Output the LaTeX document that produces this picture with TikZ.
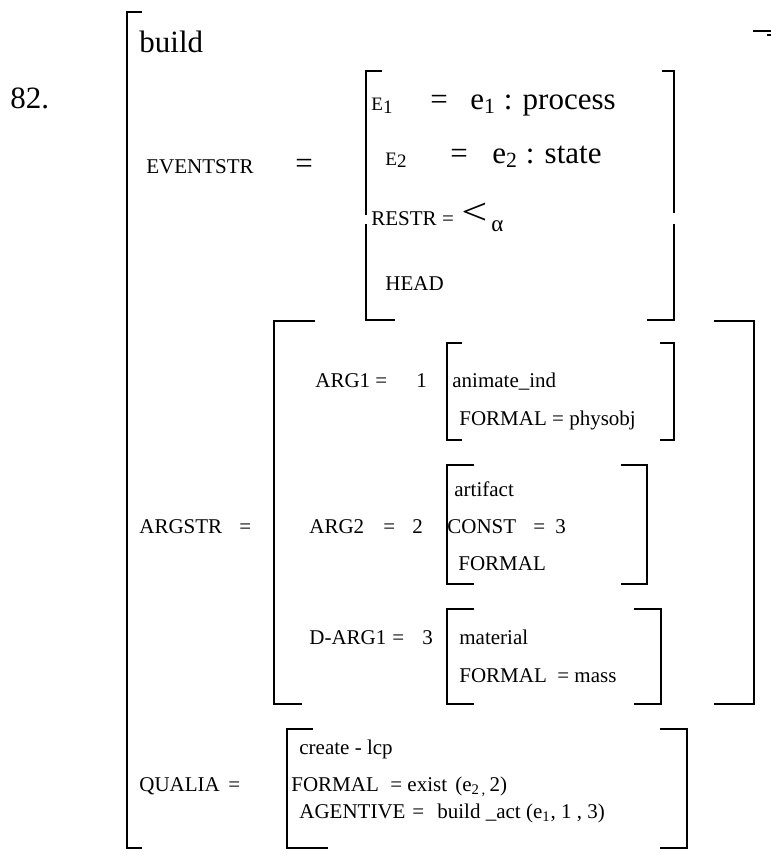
\documentclass[tikz,border=0pt]{standalone}
\usepackage{fontspec}
\setmainfont{Liberation Serif}
\usepackage{graphicx}

\begin{document}
\begin{tikzpicture}[
    x=0.5pt, y=-0.5pt,
    txt/.style={anchor=base west, inner sep=0pt, font=\fontsize{10.5}{12}\selectfont},
    big/.style={anchor=base west, inner sep=0pt, font=\fontsize{15.5}{18}\selectfont},
    small/.style={anchor=base west, inner sep=0pt, font=\fontsize{9.5}{11}\selectfont},
    brk/.style={line width=1pt}
]
\useasboundingbox (0,0) rectangle (771,863);

% Define nodes
\node[big] (num) at (10,108) {82.};
\node[big] (build) at (139,52) {build};

% event structure
\node[txt] (evs) at (146,173) {EVENTSTR};
\node[big] (evseq) at (295,173) {=};
\node[small] (e1) at (371,110) {E\raisebox{-1.5pt}{1}};
\node[big] (e1eq) at (430,109) {=};
\node[big] (e1val) at (470,109) {e\textsubscript{1} : process};
\node[small] (e2) at (385,165) {E\raisebox{-1pt}{2}};
\node[big] (e2eq) at (450,163) {=};
\node[big] (e2val) at (492,163) {e\textsubscript{2} : state};
\node[txt] (restr) at (371,225) {RESTR =};
\node[anchor=base west, inner sep=0pt, font=\fontsize{22}{24}\selectfont] (lt) at (461,224) {\scalebox{1.05}[0.85]{<}};
\node[anchor=base west, inner sep=0pt, font=\fontsize{11.5}{14}\selectfont] (alpha) at (491,231) {α};
\node[txt] (head) at (385,290) {HEAD};

% argument structure
\node[txt] (args) at (139,533) {ARGSTR};
\node[txt] (argseq) at (239,533) {=};
\node[txt] (a1) at (315,387) {ARG1};
\node[txt] (a1eq) at (375,387) {=};
\node[txt] (a1n) at (416,387) {1};
\node[txt] (anim) at (452,387) {animate\_ind};
\node[txt] (a1f) at (459,425) {FORMAL = physobj};
\node[txt] (artf) at (454,496) {artifact};
\node[txt] (a2) at (309,533) {ARG2};
\node[txt] (a2eq) at (383,533) {=};
\node[txt] (a2n) at (412,533) {2};
\node[txt] (const) at (447,533) {CONST};
\node[txt] (consteq) at (533,533) {=};
\node[txt] (constn) at (555,533) {3};
\node[txt] (a2f) at (458,570) {FORMAL};
\node[txt] (d1) at (309,644) {D-ARG1};
\node[txt] (d1eq) at (392,644) {=};
\node[txt] (d1n) at (422,644) {3};
\node[txt] (mat) at (459,644) {material};
\node[txt] (d1f) at (459,682) {FORMAL};
\node[txt] (d1fv) at (557,682) {= mass};

% qualia
\node[txt] (qua) at (139,791) {QUALIA};
\node[txt] (quaeq) at (228,791) {=};
\node[txt] (lcp) at (299,754) {create - lcp};
\node[txt] (qf) at (291,791) {FORMAL};
\node[txt] (qfv) at (390,791) {= exist};
\node[txt] (qfa) at (455,791) {(e\textsubscript{2\,,}\,2)};
\node[txt] (qa) at (299,818) {AGENTIVE};
\node[txt] (qaeq) at (412,818) {=};
\node[txt] (qav) at (437,818) {build \_act (e\textsubscript{1}, 1 , 3)};

% Define brackets
% outer
\draw[brk] (142,12) -- (127,12) -- (127,848) -- (142,848);
\draw[brk] (753,31) -- (771,31);
\draw[brk] (767,35) -- (771,35);
% eventstr
\draw[brk] (382,71) -- (366,71) -- (366,215);
\draw[brk] (366,224) -- (366,320) -- (395,320);
\draw[brk] (662,71) -- (674,71) -- (674,213);
\draw[brk] (674,224) -- (674,320) -- (647,320);
% argstr
\draw[brk] (315,321) -- (274,321) -- (274,704) -- (302,704);
\draw[brk] (714,321) -- (754,321) -- (754,704) -- (714,704);
% arg1
\draw[brk] (462,343) -- (447,343) -- (447,440) -- (462,440);
\draw[brk] (660,343) -- (674,343) -- (674,440) -- (660,440);
% arg2
\draw[brk] (474,465) -- (447,465) -- (447,584) -- (474,584);
\draw[brk] (621,465) -- (647,465) -- (647,584) -- (621,584);
% d-arg1
\draw[brk] (474,609) -- (447,609) -- (447,704) -- (474,704);
\draw[brk] (634,609) -- (661,609) -- (661,704) -- (634,704);
% qualia
\draw[brk] (313,729) -- (287,729) -- (287,848) -- (328,848);
\draw[brk] (660,729) -- (687,729) -- (687,848) -- (660,848);

\end{tikzpicture}
\end{document}
